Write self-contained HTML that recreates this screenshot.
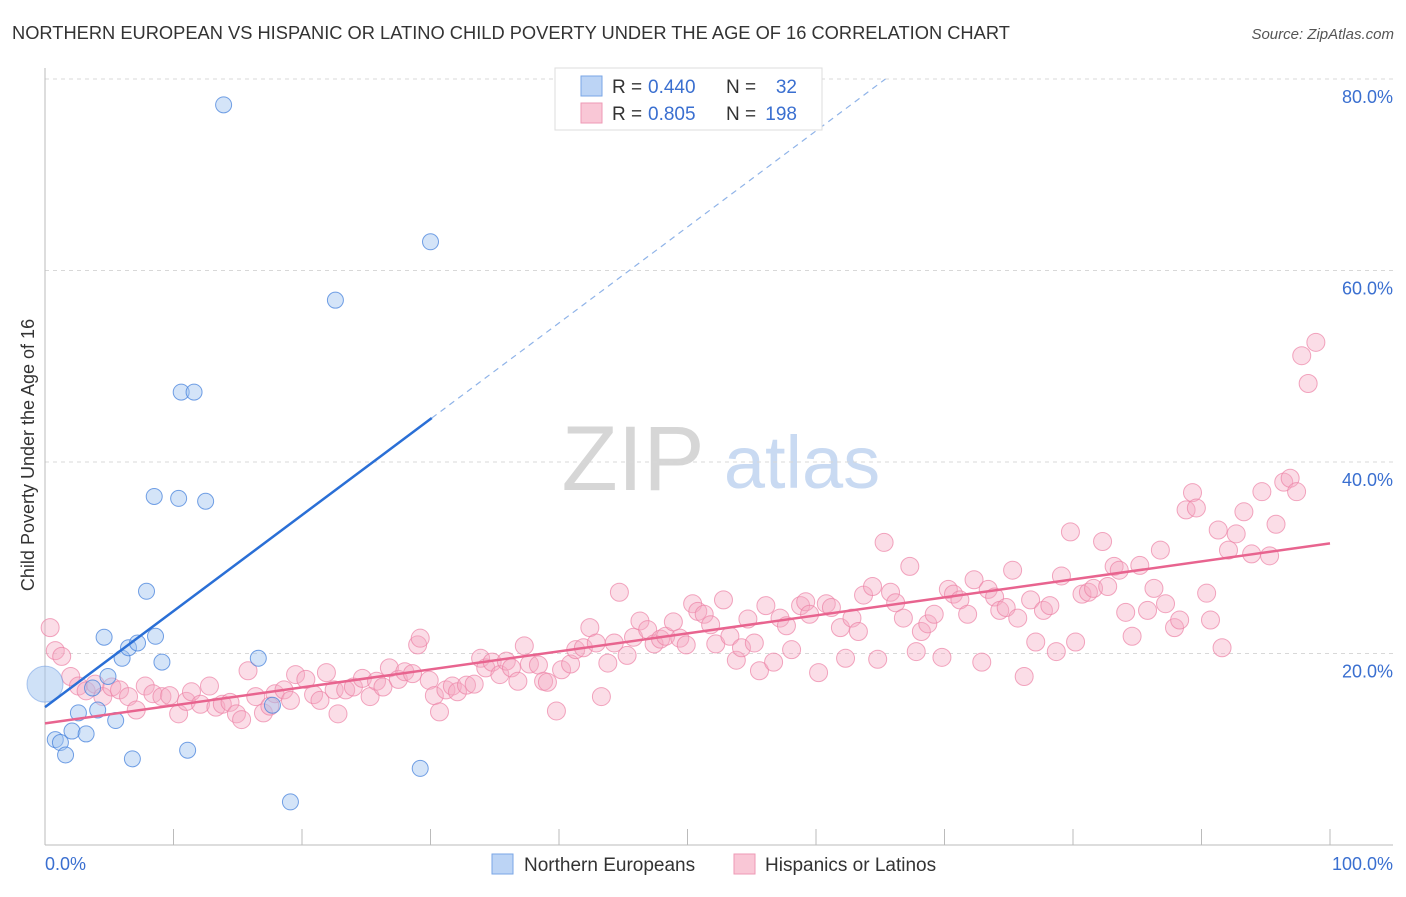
<!DOCTYPE html>
<html><head><meta charset="utf-8"><style>
body{margin:0;background:#fff;font-family:"Liberation Sans",sans-serif;}
svg text{font-family:"Liberation Sans",sans-serif;}
</style></head><body>
<svg id="chart" width="1406" height="892" viewBox="0 0 1406 892" xmlns="http://www.w3.org/2000/svg">
<text x="12" y="39" font-size="18.3" fill="#333">NORTHERN EUROPEAN VS HISPANIC OR LATINO CHILD POVERTY UNDER THE AGE OF 16 CORRELATION CHART</text>
<text x="1394" y="39" font-size="15" fill="#555" font-style="italic" text-anchor="end">Source: ZipAtlas.com</text>
<g>
<text x="633" y="490" font-size="92" fill="#d6d6d6" font-family="Liberation Serif,serif" text-anchor="middle">ZIP</text>
<text x="802" y="488" font-size="74" fill="#c9daf2" text-anchor="middle">atlas</text>
</g>
<g id="grid"></g>
<g id="axes"></g>
<g id="pts"></g>
<g id="lines"></g>
<text x="34" y="455" font-size="18" fill="#333" text-anchor="middle" transform="rotate(-90 34 455)">Child Poverty Under the Age of 16</text>
<text x="45" y="870" font-size="18" fill="#3a6fd0">0.0%</text>
<text x="1393" y="870" font-size="18" fill="#3a6fd0" text-anchor="end">100.0%</text>
<g>
<rect x="555" y="68" width="267" height="62" fill="#fff" stroke="#ddd"/>
<rect x="581" y="76" width="21" height="20" fill="#bcd4f5" stroke="#7aa6e6"/>
<rect x="581" y="103" width="21" height="20" fill="#f9c7d6" stroke="#ee9ab5"/>
<text x="612" y="93" font-size="19" fill="#333">R =</text>
<text x="648" y="93" font-size="19" fill="#3a6fd0">0.440</text>
<text x="726" y="93" font-size="19" fill="#333">N =</text>
<text x="797" y="93" font-size="19" fill="#3a6fd0" text-anchor="end">32</text>
<text x="612" y="120" font-size="19" fill="#333">R =</text>
<text x="648" y="120" font-size="19" fill="#3a6fd0">0.805</text>
<text x="726" y="120" font-size="19" fill="#333">N =</text>
<text x="797" y="120" font-size="19" fill="#3a6fd0" text-anchor="end">198</text>
</g>
<g>
<rect x="492" y="854" width="21" height="20" fill="#bcd4f5" stroke="#7aa6e6"/>
<text x="524" y="871" font-size="19" fill="#333">Northern Europeans</text>
<rect x="734" y="854" width="21" height="20" fill="#f9c7d6" stroke="#ee9ab5"/>
<text x="765" y="871" font-size="19" fill="#333">Hispanics or Latinos</text>
</g>
</svg>
<script>
const yTicks=[20,40,60,80];
const blueX=[0.8,1.2,1.6,2.1,2.6,3.2,3.7,4.1,4.6,4.9,5.5,6.0,6.5,6.8,7.2,7.9,8.5,8.6,9.1,10.4,10.6,11.1,11.6,12.5,13.9,16.6,17.7,19.1,22.6,29.2,30.0];
const blueY=[11.0,10.7,9.4,11.9,13.8,11.6,16.4,14.1,21.7,17.6,13.0,19.5,20.6,9.0,21.1,26.5,36.4,21.8,19.1,36.2,47.3,9.9,47.3,35.9,77.3,19.5,14.6,4.5,56.9,8.0,63.0];
const pinkX=[0.4,0.8,1.3,2.0,2.6,3.2,3.9,4.5,5.2,5.8,6.5,7.1,7.8,8.4,9.1,9.7,10.4,11.0,11.4,12.1,12.8,13.3,13.8,14.4,14.9,15.3,15.8,16.4,17.0,17.5,17.9,18.6,19.1,19.5,20.3,20.9,21.4,21.9,22.5,22.8,23.4,24.0,24.7,25.3,25.8,26.3,26.8,27.5,28.0,28.6,29.0,29.2,29.9,30.3,30.7,31.2,31.7,32.1,32.8,33.4,33.9,34.3,34.8,35.4,35.9,36.3,36.8,37.3,37.7,38.4,38.8,39.1,39.8,40.2,40.9,41.3,41.9,42.4,42.9,43.3,43.8,44.3,44.7,45.3,45.8,46.3,46.9,47.4,47.9,48.3,48.9,49.4,49.9,50.4,50.8,51.3,51.8,52.2,52.8,53.3,53.8,54.2,54.7,55.2,55.6,56.1,56.7,57.2,57.7,58.1,58.8,59.2,59.5,60.2,60.8,61.2,61.9,62.3,62.8,63.3,63.7,64.4,64.8,65.3,65.8,66.2,66.8,67.3,67.8,68.2,68.7,69.2,69.8,70.3,70.7,71.2,71.8,72.3,72.9,73.4,73.9,74.3,74.8,75.3,75.7,76.2,76.7,77.1,77.7,78.2,78.7,79.1,79.8,80.2,80.7,81.2,81.6,82.3,82.7,83.2,83.6,84.1,84.6,85.2,85.8,86.3,86.8,87.2,87.9,88.3,88.8,89.3,89.6,90.4,90.7,91.3,91.6,92.1,92.7,93.3,93.9,94.7,95.3,95.8,96.4,96.9,97.4,97.8,98.3,98.9];
const pinkY=[22.7,20.3,19.7,17.6,16.6,16.1,16.8,15.5,16.5,16.2,15.5,14.1,16.6,15.8,15.5,15.6,13.7,15.0,16.0,14.7,16.6,14.4,14.7,14.9,13.7,13.1,18.2,15.5,13.8,14.5,15.8,16.2,15.1,17.8,17.3,15.7,15.1,18.0,16.2,13.7,16.2,16.5,17.4,15.5,17.1,16.5,18.5,17.3,18.1,17.9,20.9,21.6,17.2,15.6,13.9,16.2,16.6,16.0,16.7,16.8,19.5,18.5,19.1,17.8,19.2,18.5,17.1,20.8,18.9,18.8,17.1,17.0,14.0,18.3,18.9,20.4,20.6,22.7,21.1,15.5,19.0,21.1,26.4,19.8,21.7,23.4,22.5,21.0,21.5,21.8,23.3,21.6,20.9,25.2,24.4,24.1,23.0,21.0,25.6,21.8,19.3,20.6,23.6,21.1,18.2,25.0,19.1,23.7,22.9,20.4,25.0,25.4,24.1,18.0,25.2,24.8,22.7,19.5,23.7,22.3,26.1,27.0,19.4,31.6,26.4,25.3,23.7,29.1,20.2,22.3,23.1,24.1,19.6,26.7,26.2,25.6,24.1,27.7,19.1,26.7,25.9,24.5,24.8,28.7,23.7,17.6,25.6,21.2,24.5,25.0,20.2,28.1,32.7,21.2,26.2,26.4,26.8,31.7,27.0,29.1,28.7,24.3,21.8,29.2,24.5,26.8,30.8,25.2,22.7,23.5,35.0,36.8,35.2,26.3,23.5,32.9,20.6,30.8,32.5,34.8,30.4,36.9,30.2,33.5,37.9,38.3,36.9,51.1,48.2,52.5];
const blueLine=[14.4,1.003];
const pinkLine=[12.7,0.188];
const NS="http://www.w3.org/2000/svg";
const X=v=>45+v*12.85, Y=v=>845-v*9.575;
function mk(tag,attrs,parent){const e=document.createElementNS(NS,tag);for(const k in attrs)e.setAttribute(k,attrs[k]);parent.appendChild(e);return e;}
const grid=document.getElementById('grid'),axes=document.getElementById('axes'),pts=document.getElementById('pts'),lines=document.getElementById('lines');
yTicks.forEach(t=>{
 const l=mk('line',{x1:45,x2:1393,y1:Y(t),y2:Y(t),stroke:'#d8d8d8','stroke-dasharray':'4,4'},grid);
 
 
 const tx=mk('text',{x:1393,y:Y(t)+24,'font-size':18,fill:'#3a6fd0','text-anchor':'end'},grid);
 tx.textContent=t.toFixed(1)+'%';
 
 
});
const ax=mk('line',{x1:45,x2:45,y1:68,y2:845,stroke:'#bbb'},axes);


const bx=mk('line',{x1:45,x2:1393,y1:845,y2:845,stroke:'#bbb'},axes);


for(let i=1;i<=10;i++){const t=mk('line',{x1:X(i*10),x2:X(i*10),y1:829,y2:845,stroke:'#bbb'},axes);
 
 }
pinkX.forEach((x,i)=>{const c=mk('circle',{cx:X(x),cy:Y(pinkY[i]),r:9,fill:'rgba(246,170,195,0.4)',stroke:'rgba(236,130,165,0.7)','stroke-width':1},pts);
 
 });
const big=mk('circle',{cx:X(0),cy:Y(16.8),r:18,fill:'rgba(160,195,240,0.5)',stroke:'rgba(100,150,225,0.5)'},pts);


blueX.forEach((x,i)=>{const c=mk('circle',{cx:X(x),cy:Y(blueY[i]),r:8,fill:'rgba(160,195,240,0.45)',stroke:'rgba(70,130,220,0.75)','stroke-width':1},pts);
 
 });
const bl=mk('line',{x1:X(0),y1:Y(blueLine[0]),x2:X(30.1),y2:Y(blueLine[0]+blueLine[1]*30.1),stroke:'#2a6fd6','stroke-width':2.5},lines);


const xe=(80-blueLine[0])/blueLine[1];
const bd=mk('line',{x1:X(30.1),y1:Y(blueLine[0]+blueLine[1]*30.1),x2:X(xe),y2:Y(80),stroke:'#8fb3e8','stroke-width':1.2,'stroke-dasharray':'6,5'},lines);


const pl=mk('line',{x1:X(0),y1:Y(pinkLine[0]),x2:X(100),y2:Y(pinkLine[0]+pinkLine[1]*100),stroke:'#e8648f','stroke-width':2.5},lines);


</script>
</body></html>
